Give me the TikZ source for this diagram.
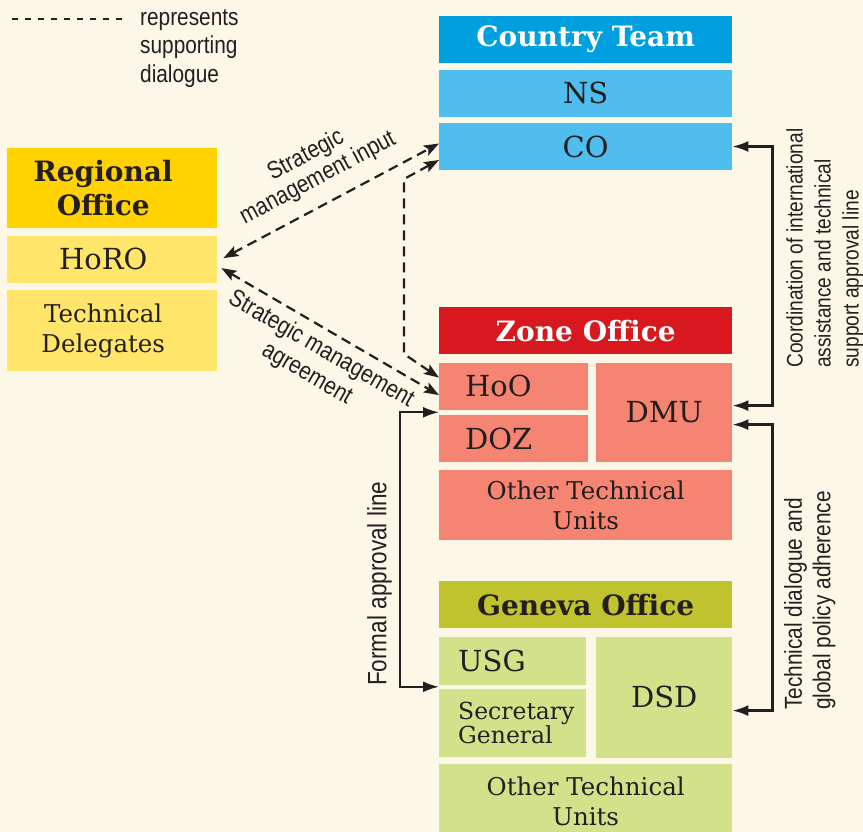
\documentclass[tikz,border=0pt]{standalone}
\usepackage{fontspec}
\usepackage{xcolor}
\usetikzlibrary{arrows.meta,calc,positioning}
\newfontfamily\boxfont{DejaVu Serif}
\newfontfamily\lblfont[FakeStretch=0.85]{Liberation Sans}
\definecolor{paper}{RGB}{253,247,232}
\definecolor{ink}{RGB}{35,31,32}
\definecolor{ctblue}{RGB}{0,159,223}
\definecolor{ctsub}{RGB}{79,189,237}
\definecolor{royel}{RGB}{255,210,0}
\definecolor{rosub}{RGB}{255,230,106}
\definecolor{zred}{RGB}{215,25,31}
\definecolor{zsub}{RGB}{245,132,115}
\definecolor{golive}{RGB}{192,194,46}
\definecolor{gsub}{RGB}{211,225,138}
% regional office texts sit a little left of the box centre
\newcommand{\rol}{\hspace*{-18pt}}

\begin{document}
\begin{tikzpicture}[x=1pt,y=-1pt,
	every node/.style={inner sep=0pt, text=ink},
	cell/.style={fill=#1, minimum width=293pt, minimum height=47pt, align=center},
	head/.style={font=\boxfont\bfseries\fontsize{28}{34}\selectfont},
	big/.style={font=\boxfont\fontsize{29}{34}\selectfont},
	reg/.style={font=\boxfont\fontsize{24.5}{30}\selectfont},
	lbl/.style={font=\lblfont\fontsize{24.5}{28.5}\selectfont},
	appr/.style={draw=ink, line width=2.3pt, >={Latex[length=16pt,width=11pt]}, <->},
	dlg/.style={draw=ink, line width=2.2pt, dash pattern=on 10pt off 6pt,
		>={Stealth[length=15pt,width=11pt,inset=3pt]}, <->},
	legdash/.style={draw=ink, line width=2.3pt, dash pattern=on 6pt off 7pt}
	]
	\useasboundingbox (0,0) rectangle (863,832);
	\fill[paper] (0,0) rectangle (863,832);

	% legend
	\coordinate (lgA) at (12,19);
	\coordinate (lgB) at (125,19);
	\draw[legdash] (lgA) -- (lgB);
	\node[lbl, anchor=north west, align=left] (lgtxt) at (140,9) {represents\\supporting\\dialogue};

	% country team
	\node[cell=ctblue, head, text=white, anchor=north west] (CT) at (439,16) {Country Team};
	\node[cell=ctsub, big, below=6pt of CT] (NS) {NS};
	\node[cell=ctsub, big, below=6pt of NS] (CO) {CO};

	% regional office
	\node[cell=royel, head, minimum width=210pt, minimum height=80pt, anchor=north west] (RO) at (7,148) {\rol Regional\\\rol Office};
	\node[cell=rosub, big, minimum width=210pt, below=7pt of RO] (HoRO) {\rol HoRO};
	\node[cell=rosub, reg, minimum width=210pt, minimum height=81pt, below=7pt of HoRO] (TD) {\rol Technical\\\rol Delegates};

	% zone office
	\node[cell=zred, head, text=white, anchor=north west] (ZO) at (439,307) {Zone Office};
	\node[cell=zsub, big, minimum width=149pt, text width=97pt, inner xsep=26pt, align=left,
		below=8pt of ZO.south west, anchor=north west] (HoO) {HoO};
	\node[cell=zsub, big, minimum width=149pt, text width=97pt, inner xsep=26pt, align=left,
		below=5pt of HoO] (DOZ) {DOZ};
	\node[cell=zsub, big, minimum width=136pt, minimum height=99pt,
		below=8pt of ZO.south east, anchor=north east] (DMU) {DMU};
	\node[cell=zsub, reg, minimum height=70pt, below=8pt of DOZ.south west, anchor=north west] (ZOT) {Other Technical\\Units};

	% geneva office
	\node[cell=golive, head, anchor=north west] (GO) at (439,581) {Geneva Office};
	\node[cell=gsub, big, minimum width=147pt, minimum height=48pt, text width=109pt, inner xsep=19pt, align=left,
		below=8pt of GO.south west, anchor=north west] (USG) {USG};
	\node[cell=gsub, font=\boxfont\fontsize{23.5}{24.5}\selectfont, minimum width=147pt, minimum height=68pt,
		text width=109pt, inner xsep=19pt, align=left, below=4pt of USG] (SG) {Secretary\\General};
	\node[cell=gsub, big, minimum width=136pt, minimum height=121pt,
		below=8pt of GO.south east, anchor=north east] (DSD) {DSD};
	\node[cell=gsub, reg, minimum height=74pt, below=7pt of SG.south west, anchor=north west] (GOT) {Other Technical\\Units};

	% supporting dialogue
	\draw[dlg] ([xshift=6pt,yshift=1pt]HoRO.east) -- ([yshift=3pt]CO.west);
	\draw[dlg] ([xshift=4pt,yshift=-9pt]HoRO.east) -- ([yshift=-9pt]HoO.west);
	\draw[dlg] ([yshift=-13.5pt]CO.west) -- ++(-35,19) -- ++(0,175) -- ([yshift=8.5pt]HoO.west);
	\node[lbl, font=\lblfont\fontsize{24.5}{25.5}\selectfont, rotate=28, align=center] (sminput) at (312,167) {Strategic\\management input};
	\node[lbl, rotate=-30, align=center] (smagree) at (314,362) {Strategic management\\agreement};

	% approval lines
	\coordinate (zl) at ($(HoO.south west)!.5!(DOZ.north west)$);
	\coordinate (gl) at ($(USG.south west)!.5!(SG.north west)$);
	\draw[appr] (zl) -- ++(-39,0) |- (gl);
	\node[lbl, font=\lblfont\fontsize{26.5}{28.5}\selectfont, rotate=90, anchor=north west] (falbl) at (367,686) {Formal approval line};

	\draw[appr] (CO.east) -- ++(40,0) |- ([yshift=6.5pt]DMU.east);
	\draw[appr] ([yshift=-12.5pt]DMU.east) -- ++(40,0) |- ([yshift=-13.5pt]DSD.east);
	\node[lbl, font=\lblfont\fontsize{22.5}{28}\selectfont, rotate=90, anchor=north west, align=left] (coordlbl) at (786,368) {Coordination of international\\assistance and technical\\support approval line};
	\node[lbl, rotate=90, anchor=north west, align=left] (techlbl) at (784,710) {Technical dialogue and\\global policy adherence};
\end{tikzpicture}
\end{document}
